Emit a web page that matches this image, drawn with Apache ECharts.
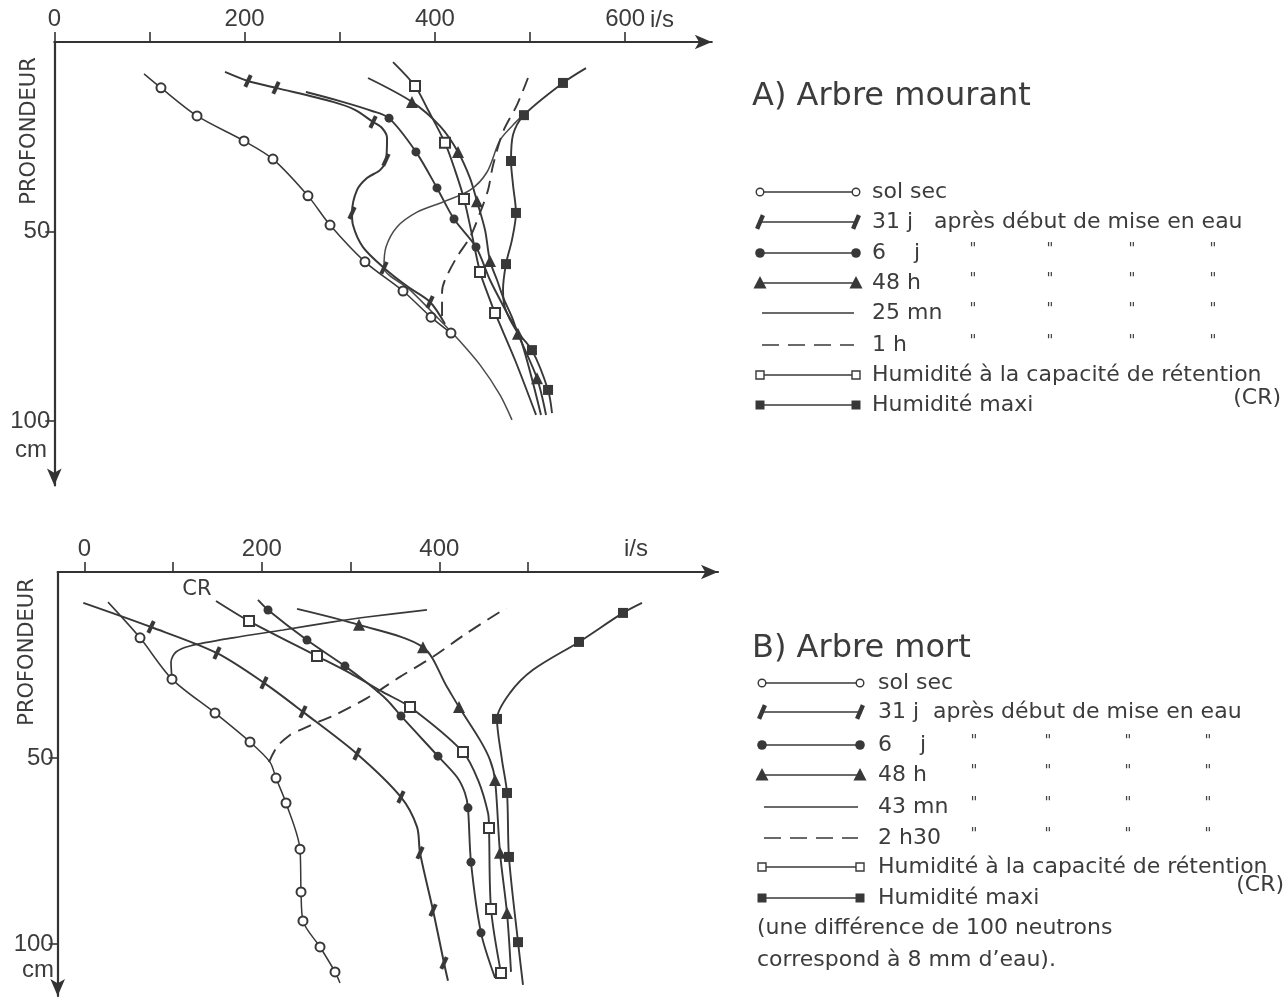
<!DOCTYPE html>
<html><head><meta charset="utf-8">
<script src="https://cdn.jsdelivr.net/npm/echarts@6/dist/echarts.min.js"></script>
<style>html,body{margin:0;padding:0;background:#fff}#c{width:1286px;height:998px}</style>
</head><body><div id="c"></div>
<script>
// ---------- DATA: [neutron count (i/s), depth (cm), measured point 1/0] ----------
// A) Arbre mourant
const A_solSec = [[94.3,8.4,0],[112.1,12.1,1],[150.0,19.5,1],[199.4,26.1,1],[229.8,30.9,1],[266.6,40.6,1],[289.8,48.3,1],[326.5,58.0,1],[366.5,65.7,1],[395.9,72.6,1],[416.9,76.8,1]];
const A_31j = [[179.4,7.9,0],[203.6,10.3,1],[233.0,12.1,1],[292.9,15.8,0],[316.0,17.9,0],[335.0,21.1,1],[344.4,22.7,0],[349.7,25.3,0],[348.6,31.1,1],[342.3,33.8,0],[328.6,35.9,0],[318.1,39.1,0],[312.9,45.1,1],[313.9,48.3,0],[324.4,54.1,0],[346.5,59.6,1],[371.7,64.6,0],[394.9,68.6,1],[410.6,74.4,0]];
const A_6j = [[264.5,13.2,0],[300.3,15.6,0],[333.9,18.2,0],[351.8,20.1,1],[380.1,29.0,1],[402.2,38.5,1],[420.1,46.7,1],[443.2,54.1,1],[457.9,62.8,0],[475.8,71.5,0],[489.4,77.8,0],[511.5,98.4,0]];
const A_48h = [[329.7,9.5,0],[375.9,15.8,1],[405.4,22.2,0],[424.3,29.0,1],[436.9,35.9,0],[444.2,42.0,1],[452.7,49.6,0],[457.9,57.8,1],[465.3,62.8,0],[471.6,67.3,0],[481.0,72.6,0],[487.3,77.0,1],[507.3,88.7,1],[516.8,98.4,0]];
const A_25mn = [[492.6,19.3],[482.1,21.9],[468.4,25.9],[454.8,34.3],[436.9,39.1],[408.5,42.2],[381.2,44.9],[360.2,48.8],[348.6,54.1],[346.5,59.4],[373.8,65.4],[405.4,73.4],[423.2,78.1],[447.4,85.2],[468.4,93.1],[481.0,99.7]];
const A_1h = [[497.8,9.5],[486.3,16.6],[471.6,23.7],[461.1,32.5],[455.8,39.1],[447.4,45.1],[436.9,51.5],[423.2,56.7],[410.6,62.8],[407.5,66.0],[407.5,72.8]];
const A_CR = [[356.0,5.3,0],[379.1,11.6,1],[391.7,17.4,0],[410.6,26.6,1],[421.1,33.8,0],[430.6,41.4,1],[439.0,50.9,0],[447.4,60.7,1],[454.8,66.0,0],[463.2,71.5,1],[484.2,83.9,0],[506.3,98.4,0]];
const A_max = [[558.8,6.9,0],[534.6,10.8,1],[493.6,19.3,1],[482.1,24.5,0],[480.0,31.4,1],[482.1,37.7,0],[485.2,45.1,1],[481.0,52.2,0],[474.7,58.6,1],[471.6,65.4,0],[473.7,70.2,0],[485.2,76.0,0],[502.0,81.3,1],[518.9,91.8,1],[523.1,97.9,0]];
// B) Arbre mort
const B_solSec = [[26.7,8.1,0],[62.8,17.7,1],[98.8,28.8,1],[147.3,37.9,1],[186.7,45.7,1],[209.2,51.1,0],[216.0,55.4,1],[227.3,62.1,1],[243.0,74.5,1],[244.2,86.0,1],[246.4,93.8,1],[265.6,100.8,1],[282.5,107.5,1],[288.1,110.5,0]];
const B_31j = [[-1.1,8.3,0],[75.2,14.8,1],[149.5,21.8,1],[202.5,29.8,1],[246.4,37.6,1],[307.3,48.9,1],[356.8,60.5,1],[374.9,68.5,0],[378.3,75.5,1],[392.9,90.9,1],[405.3,105.1,1],[409.8,109.9,0]];
const B_6j = [[195.7,7.5,0],[207.0,10.2,1],[250.9,18.3,1],[293.7,25.3,1],[318.5,29.8,0],[341.1,34.4,0],[356.8,38.7,1],[398.5,49.5,1],[419.9,55.1,0],[428.9,59.4,0],[432.3,63.4,1],[435.7,78.0,1],[447.0,97.0,1],[462.8,109.1,0]];
const B_48h = [[239.7,9.9,0],[309.5,14.2,1],[381.6,20.2,1],[408.7,30.9,0],[422.2,36.3,1],[445.9,45.2,0],[457.1,50.5,0],[462.8,55.9,1],[468.4,75.5,1],[476.3,91.7,1],[480.8,107.5,0]];
const B_43mn = [[98.8,28.8],[97.7,24.2],[103.3,21.5],[119.1,19.9],[167.5,17.7],[223.9,15.6],[280.2,13.4],[318.5,12.1],[386.1,10.2]];
const B_2h30 = [[208.1,51.1],[217.1,47.0],[231.8,43.8],[243.0,42.5],[265.6,40.1],[280.2,38.7],[318.5,33.9],[355.7,28.2],[392.9,22.8],[431.2,16.4],[475.2,9.7]];
const B_CR = [[148.4,7.8,0],[185.6,13.2,1],[262.2,22.6,1],[299.4,27.2,0],[336.6,32.3,0],[367.0,36.3,1],[426.7,48.4,1],[443.6,55.9,0],[454.9,64.8,0],[456.0,68.8,1],[458.3,90.6,1],[469.5,107.8,1]];
const B_max = [[628.4,8.3,0],[607.0,11.0,1],[557.4,18.8,1],[505.6,26.3,0],[479.7,32.5,0],[465.0,39.5,1],[470.6,50.5,0],[476.3,59.4,1],[478.5,76.6,1],[488.7,99.5,1],[494.3,111.0,0]];

// ticks / labels
const A_xTicks = [0,100,200,300,400,500,600];
const A_xLabels = [0,200,400,600];
const A_yTicks = [50,100];
const B_xTicks = [0,100,200,300,400,500];
const B_xLabels = [0,200,400];
const B_yTicks = [50,100];

// legend texts
const A_title = 'A) Arbre mourant';
const B_title = 'B) Arbre mort';
const A_legend = ['sol sec','31 j   après début de mise en eau','6    j','48 h','25 mn','1 h','Humidité à la capacité de rétention','Humidité maxi'];
const B_legend = ['sol sec','31 j  après début de mise en eau','6    j','48 h','43 mn','2 h30','Humidité à la capacité de rétention','Humidité maxi'];
const B_note = ['(une différence de 100 neutrons','correspond à 8 mm d’eau).'];
const unitX = 'i/s', unitY = 'cm', axisName = 'PROFONDEUR', crTag = 'CR', crParen = '(CR)';

// ---------- STYLE ----------
const INK = '#383838', AX = '#333', TXT = '#3c3c3c';
const FONT = '"DejaVu Sans", sans-serif', NUMFONT = '"Liberation Sans Narrow", "Liberation Sans", Arial, sans-serif';

function pts(arr){
  return arr.map(p => (p.length < 3 || p[2]) ? [p[0], p[1]] : {value:[p[0], p[1]], symbol:'none'});
}
const SYM = {
  oc:  {symbol:'emptyCircle', symbolSize:9, itemStyle:{color:INK, borderWidth:1.4}},
  tick:{symbol:'rect', symbolSize:[4,13], symbolRotate:-25, itemStyle:{color:INK, borderWidth:0}},
  fc:  {symbol:'circle', symbolSize:9, itemStyle:{color:INK, borderWidth:0}},
  tri: {symbol:'triangle', symbolSize:12, itemStyle:{color:INK, borderWidth:0}},
  os:  {symbol:'emptyRect', symbolSize:10, itemStyle:{color:INK, borderWidth:1.4}},
  fs:  {symbol:'rect', symbolSize:10, itemStyle:{color:INK, borderWidth:0}},
  none:{symbol:'none'}
};
function ser(gi, arr, kind, lw, dash, color){
  return Object.assign({
    type:'line', xAxisIndex:gi, yAxisIndex:gi, data:pts(arr), smooth:0.3,
    lineStyle:{color: color || INK, width: lw || 1.9, type: dash ? [14,8] : 'solid'},
    showSymbol:true, clip:false, z:3, silent:true
  }, JSON.parse(JSON.stringify(SYM[kind])));
}

function axisX(gi, min, max, ticks, labels){
  return {type:'value', gridIndex:gi, position:'top', min, max,
    axisLine:{show:true, onZero:false, symbol:['none','arrow'], symbolSize:[11,17], lineStyle:{color:AX, width:2.2}},
    axisTick:{show:true, length:10, customValues:ticks, lineStyle:{color:AX, width:1.6}},
    axisLabel:{show:true, customValues:labels, margin:11, fontSize:24, fontFamily:NUMFONT, color:TXT},
    splitLine:{show:false}};
}
function axisY(gi, max, ticks){
  return {type:'value', gridIndex:gi, inverse:true, min:0, max, position:'left',
    axisLine:{show:true, onZero:false, symbol:['arrow','none'], symbolSize:[11,17], lineStyle:{color:AX, width:2.2}},
    axisTick:{show:true, length:9, customValues:ticks, lineStyle:{color:AX, width:1.6}},
    axisLabel:{show:true, customValues:ticks, margin:4, fontSize:24, fontFamily:NUMFONT, color:TXT},
    splitLine:{show:false}};
}

// ---------- LEGEND GRAPHICS ----------
function symbolShape(kind, cx, cy){
  switch(kind){
    case 'oc': return {type:'circle', shape:{cx, cy, r:3.8}, style:{fill:'#fff', stroke:INK, lineWidth:1.4}};
    case 'fc': return {type:'circle', shape:{cx, cy, r:4.8}, style:{fill:INK}};
    case 'tri': return {type:'polygon', shape:{points:[[cx-6.5,cy+5.5],[cx+6.5,cy+5.5],[cx,cy-7]]}, style:{fill:INK}};
    case 'tick': return {type:'rect', x:cx, y:cy, rotation:-0.4, shape:{x:-2.2,y:-7.5,width:4.4,height:15}, style:{fill:INK}};
    case 'os': return {type:'rect', shape:{x:cx-4,y:cy-4,width:8,height:8}, style:{fill:'#fff', stroke:INK, lineWidth:1.4}};
    case 'fs': return {type:'rect', shape:{x:cx-4.5,y:cy-4.5,width:9,height:9}, style:{fill:INK}};
  }
  return null;
}
function legendBlock(x1, x2, xt, ys, labels, kinds, dittoXs){
  const out = [];
  ys.forEach((y, i) => {
    const k = kinds[i];
    out.push({type:'line', shape:{x1:x1+2, y1:y, x2:x2-2, y2:y}, style:{stroke:INK, lineWidth:1.6, lineDash: k==='dash' ? [17,9] : null}, z:10});
    [x1, x2].forEach(cx => { const s = symbolShape(k, cx, y); if (s){ s.z = 11; out.push(s);} });
    out.push({type:'text', x:xt, y:y, style:{text:labels[i], fontSize:22, fontFamily:FONT, fill:TXT, align:'left', verticalAlign:'middle'}, z:10});
    if (i >= 2 && i <= 5) dittoXs.forEach(dx => out.push({type:'text', x:dx, y:y-3, style:{text:'"', fontSize:15, fontFamily:FONT, fill:'#444', align:'center', verticalAlign:'middle'}, z:10}));
  });
  return out;
}
const kinds = ['oc','tick','fc','tri','plain','dash','os','fs'];
function txt(x, y, t, size, opts){
  return Object.assign({type:'text', x, y, style:Object.assign({text:t, fontSize:size, fontFamily:FONT, fill:TXT, align:'left', verticalAlign:'middle'}, (opts&&opts.style)||{}), z:10}, (opts&&opts.el)||{});
}

const graphic = [].concat(
  [txt(752, 97, A_title, 32), txt(752, 649, B_title, 32)],
  legendBlock(760, 856, 872, [192,222,253,283,313,345,375,405], A_legend, kinds, [973,1050,1132,1213]),
  legendBlock(762, 860, 878, [683,712,745,775,807,838,867,898], B_legend, kinds, [974,1048,1128,1208]),
  [txt(1281, 398, crParen, 22, {style:{align:'right'}}), txt(1284, 885, crParen, 22, {style:{align:'right'}})],
  [txt(757, 928, B_note[0], 22), txt(757, 960, B_note[1], 22)],
  [txt(650, 20, unitX, 24, {style:{fontFamily:NUMFONT}}), txt(624, 549, unitX, 24, {style:{fontFamily:NUMFONT}})],
  [txt(15, 450, unitY, 24, {style:{fontFamily:NUMFONT}}), txt(22, 970, unitY, 24, {style:{fontFamily:NUMFONT}})],
  [txt(30, 131, axisName, 21, {style:{align:'center'}, el:{rotation:Math.PI/2}}), txt(28, 652, axisName, 21, {style:{align:'center'}, el:{rotation:Math.PI/2}})],
  [txt(197, 590, crTag, 21, {style:{align:'center'}})]
);

const option = {
  animation:false, backgroundColor:'#fff',
  grid:[
    {left:54.3, top:42, width:691*0.9515, height:117*3.79, containLabel:false, outerBoundsMode:'none'},
    {left:57.675, top:572, width:(714+30)*0.8875, height:114*3.72, containLabel:false, outerBoundsMode:'none'}
  ],
  xAxis:[axisX(0, 0, 691, A_xTicks, A_xLabels), axisX(1, -30, 714, B_xTicks, B_xLabels)],
  yAxis:[axisY(0, 117, A_yTicks), axisY(1, 114, B_yTicks)],
  series:[
    ser(0, A_solSec, 'oc', 1.5), ser(0, A_31j, 'tick', 2), ser(0, A_6j, 'fc'), ser(0, A_48h, 'tri'),
    ser(0, A_25mn, 'none', 1.5, false, '#4a4a4a'), ser(0, A_1h, 'none', 1.9, true), ser(0, A_CR, 'os'), ser(0, A_max, 'fs'),
    ser(1, B_solSec, 'oc', 1.5), ser(1, B_31j, 'tick', 2), ser(1, B_6j, 'fc'), ser(1, B_48h, 'tri'),
    ser(1, B_43mn, 'none', 1.7), ser(1, B_2h30, 'none', 1.9, true), ser(1, B_CR, 'os'), ser(1, B_max, 'fs')
  ],
  graphic
};
const chart = echarts.init(document.getElementById('c'), null, {renderer:'canvas'});
chart.setOption(option);
</script></body></html>
